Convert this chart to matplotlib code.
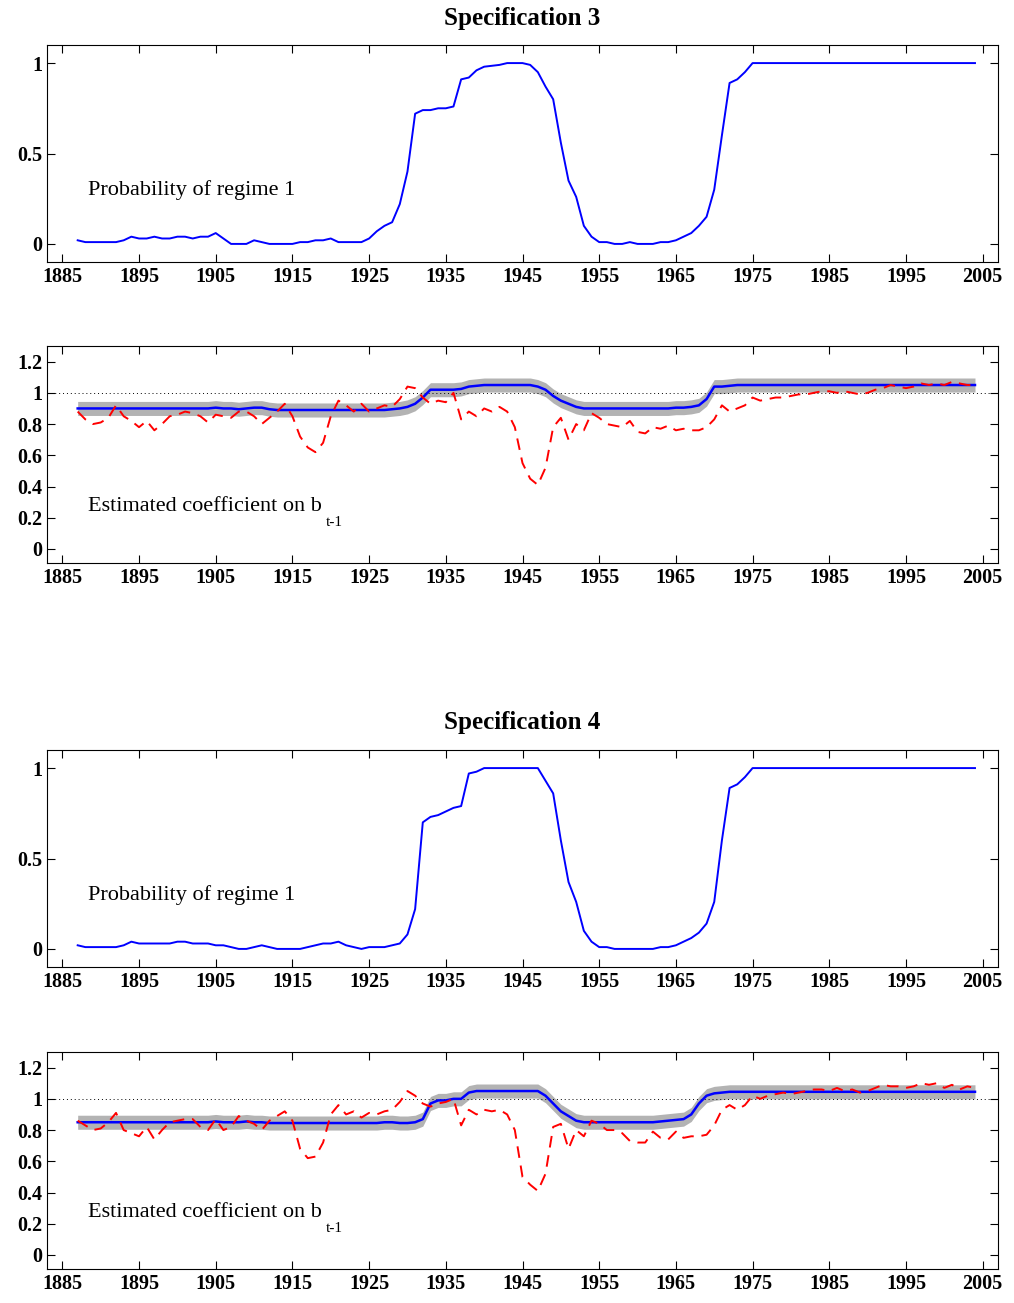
import matplotlib
matplotlib.use("Agg")
import matplotlib.pyplot as plt
import numpy as np

plt.rcParams['font.family'] = ['Liberation Serif', 'DejaVu Serif']

years = list(range(1887, 2005))
xticks = [1885, 1895, 1905, 1915, 1925, 1935, 1945, 1955, 1965, 1975, 1985, 1995, 2005]

prob3 = [0.02, 0.01, 0.01, 0.01, 0.01, 0.01, 0.02, 0.04, 0.03, 0.03, 0.04, 0.03, 0.03, 0.04, 0.04, 0.03, 0.04, 0.04,
         0.06, 0.03, 0.0, 0.0, 0.0, 0.02, 0.01, 0.0, 0.0, 0.0, 0.0, 0.01, 0.01, 0.02, 0.02, 0.03, 0.01,
         0.01, 0.01, 0.01, 0.03, 0.07, 0.1, 0.12, 0.22, 0.4, 0.72, 0.74, 0.74, 0.75, 0.75, 0.76, 0.91, 0.92, 0.96,
         0.98, 0.985, 0.99, 1.0, 1.0, 1.0, 0.99, 0.95, 0.87, 0.80, 0.56, 0.35, 0.26, 0.1, 0.04, 0.01, 0.01, 0.0,
         0.0, 0.01, 0.0, 0.0, 0.0, 0.01, 0.01, 0.02, 0.04, 0.06, 0.1, 0.15, 0.3, 0.6, 0.89, 0.91, 0.95,
         1.0, 1.0, 1.0, 1.0, 1.0, 1.0, 1.0, 1.0, 1.0, 1.0, 1.0, 1.0, 1.0, 1.0, 1.0, 1.0, 1.0, 1.0, 1.0, 1.0, 1.0,
         1.0, 1.0, 1.0, 1.0, 1.0, 1.0, 1.0, 1.0, 1.0]
prob4 = [0.02, 0.01, 0.01, 0.01, 0.01, 0.01, 0.02, 0.04, 0.03, 0.03, 0.03, 0.03, 0.03, 0.04, 0.04, 0.03, 0.03, 0.03,
         0.02, 0.02, 0.01, 0.0, 0.0, 0.01, 0.02, 0.01, 0.0, 0.0, 0.0, 0.0, 0.01, 0.02, 0.03, 0.03, 0.04, 0.02,
         0.01, 0.0, 0.01, 0.01, 0.01, 0.02, 0.03, 0.08, 0.22, 0.70, 0.73, 0.74, 0.76, 0.78, 0.79, 0.97, 0.98, 1.0,
         1.0, 1.0, 1.0, 1.0, 1.0, 1.0, 1.0, 0.93, 0.86, 0.60, 0.37, 0.26, 0.1, 0.04, 0.01, 0.01, 0.0, 0.0, 0.0,
         0.0, 0.0, 0.0, 0.01, 0.01, 0.02, 0.04, 0.06, 0.09, 0.14, 0.26, 0.6, 0.89, 0.91, 0.95, 1.0,
         1.0, 1.0, 1.0, 1.0, 1.0, 1.0, 1.0, 1.0, 1.0, 1.0, 1.0, 1.0, 1.0, 1.0, 1.0, 1.0, 1.0, 1.0, 1.0, 1.0, 1.0,
         1.0, 1.0, 1.0, 1.0, 1.0, 1.0, 1.0, 1.0]

coef3 = [0.9]*18 + [0.905, 0.9, 0.9, 0.895, 0.9, 0.905, 0.905, 0.895, 0.89, 0.89] + [0.89]*13 + \
        [0.895, 0.9, 0.91, 0.93, 0.97, 1.02, 1.02, 1.02, 1.02, 1.025, 1.04, 1.045, 1.05, 1.05, 1.05, 1.05, 1.05,
         1.05, 1.05, 1.04, 1.02, 0.98, 0.95, 0.93, 0.91, 0.9, 0.9, 0.9, 0.9, 0.9, 0.9, 0.9, 0.9, 0.9, 0.9, 0.9,
         0.9, 0.905, 0.905, 0.91, 0.92, 0.96, 1.04, 1.04, 1.045, 1.05] + [1.05]*31
coef4 = [0.85]*18 + [0.855, 0.85, 0.85, 0.85, 0.855, 0.85, 0.85, 0.845, 0.845, 0.845] + [0.845]*12 + \
        [0.85, 0.85, 0.845, 0.845, 0.85, 0.87, 0.97, 0.99, 0.99, 1.0, 1.0, 1.04, 1.05, 1.05, 1.05, 1.05, 1.05,
         1.05, 1.05, 1.05, 1.05, 1.02, 0.97, 0.92, 0.89, 0.86, 0.85, 0.85, 0.85, 0.85, 0.85, 0.85, 0.85, 0.85,
         0.85, 0.85, 0.855, 0.86, 0.865, 0.87, 0.9, 0.97, 1.02, 1.035, 1.04, 1.045] + [1.045]*32
band_half = 0.045

red3 = [0.88, 0.83, 0.80, 0.81, 0.84, 0.92, 0.85, 0.82, 0.78, 0.82, 0.76, 0.80, 0.85, 0.86, 0.88, 0.87, 0.85, 0.81,
        0.86, 0.85, 0.84, 0.88, 0.88, 0.85, 0.80, 0.84, 0.88, 0.93, 0.85, 0.72, 0.65, 0.62, 0.68, 0.85, 0.95, 0.92,
        0.88, 0.93, 0.88, 0.90, 0.92, 0.91, 0.96, 1.04, 1.03, 0.97, 0.93, 0.95, 0.94, 1.0, 0.83, 0.88, 0.85, 0.90,
        0.88, 0.91, 0.88, 0.78, 0.55, 0.45, 0.41, 0.52, 0.78, 0.84, 0.70, 0.80, 0.76, 0.87, 0.84, 0.80, 0.79, 0.78,
        0.82, 0.75, 0.74, 0.78, 0.77, 0.79, 0.76, 0.77, 0.76, 0.76, 0.78, 0.83, 0.92, 0.88, 0.90, 0.92, 0.97, 0.95,
        0.96, 0.97, 0.97, 0.98, 0.99, 0.99, 1.0, 1.01, 1.01, 1.0, 1.01, 1.0, 0.99, 1.0, 1.02, 1.03, 1.05, 1.04,
        1.03, 1.04, 1.06, 1.05, 1.06, 1.05, 1.07, 1.06, 1.05, 1.05]
red4 = [0.86, 0.83, 0.80, 0.81, 0.85, 0.91, 0.80, 0.78, 0.76, 0.82, 0.74, 0.80, 0.85, 0.86, 0.87, 0.87, 0.82, 0.80,
        0.87, 0.80, 0.82, 0.89, 0.86, 0.84, 0.80, 0.86, 0.89, 0.92, 0.86, 0.68, 0.62, 0.63, 0.72, 0.90, 0.96, 0.90,
        0.92, 0.88, 0.91, 0.90, 0.92, 0.93, 0.98, 1.05, 1.02, 0.97, 0.95, 0.97, 0.98, 1.0, 0.83, 0.93, 0.90, 0.93,
        0.92, 0.93, 0.90, 0.80, 0.50, 0.45, 0.41, 0.52, 0.82, 0.84, 0.68, 0.80, 0.76, 0.86, 0.84, 0.80, 0.80, 0.78,
        0.73, 0.72, 0.72, 0.79, 0.75, 0.74, 0.79, 0.75, 0.76, 0.76, 0.77, 0.83, 0.93, 0.96, 0.93, 0.96, 1.02, 1.0,
        1.02, 1.03, 1.04, 1.03, 1.04, 1.05, 1.06, 1.06, 1.05, 1.07, 1.05, 1.06, 1.04, 1.05, 1.07, 1.09, 1.08, 1.08,
        1.07, 1.08, 1.10, 1.09, 1.10, 1.07, 1.09, 1.06, 1.08, 1.07]

fig = plt.figure(figsize=(10.14, 13.03), dpi=100)
L, W, H = 47/1014, 951/1014, 217/1303
tops = [45, 346, 750, 1052]
axes = [fig.add_axes([L, 1 - (t + 217)/1303, W, H]) for t in tops]

def style(ax):
    ax.set_xlim(1883, 2007)
    ax.set_xticks(xticks)
    ax.tick_params(direction='in', top=True, right=True, length=6, width=0.8, labelsize=14.5)
    for lab in ax.get_xticklabels() + ax.get_yticklabels():
        lab.set_fontweight('bold')
    for s in ax.spines.values():
        s.set_linewidth(0.8)

for ax, p in [(axes[0], prob3), (axes[2], prob4)]:
    n = min(len(years), len(p))
    ax.plot(years[:n], p[:n], color='#0000ff', lw=1.4)
    ax.set_ylim(-0.1, 1.1)
    ax.set_yticks([0, 0.5, 1])
    ax.set_yticklabels(['0', '0.5', '1'])
    ax.text(1888.3, 0.27, 'Probability of regime 1', fontsize=16)
    style(ax)

for ax, c, r in [(axes[1], coef3, red3), (axes[3], coef4, red4)]:
    n = min(len(years), len(c), len(r))
    yrs = years[:n]
    c = np.array(c[:n]); r = r[:n]
    ax.fill_between(yrs, c - band_half, c + band_half, color='#b3b3b3', lw=0)
    ax.axhline(1.0, color='k', ls=(0, (1, 3)), lw=0.7)
    ax.plot(yrs, c, color='#0000ff', lw=1.8)
    ax.plot(yrs, r, color='#ff0000', lw=1.4, ls=(0, (6, 4)))
    ax.set_ylim(-0.09, 1.3)
    ax.set_yticks([0, 0.2, 0.4, 0.6, 0.8, 1.0, 1.2])
    ax.set_yticklabels(['0', '0.2', '0.4', '0.6', '0.8', '1', '1.2'])
    ax.text(1888.3, 0.24, 'Estimated coefficient on b', fontsize=16)
    ax.text(1919.4, 0.15, 't-1', fontsize=11)
    style(ax)

fig.text(0.515, 1 - 18/1303, 'Specification 3', ha='center', va='center', fontsize=18, fontweight='bold')
fig.text(0.515, 1 - 722/1303, 'Specification 4', ha='center', va='center', fontsize=18, fontweight='bold')

fig.savefig('out.png', dpi=100)
